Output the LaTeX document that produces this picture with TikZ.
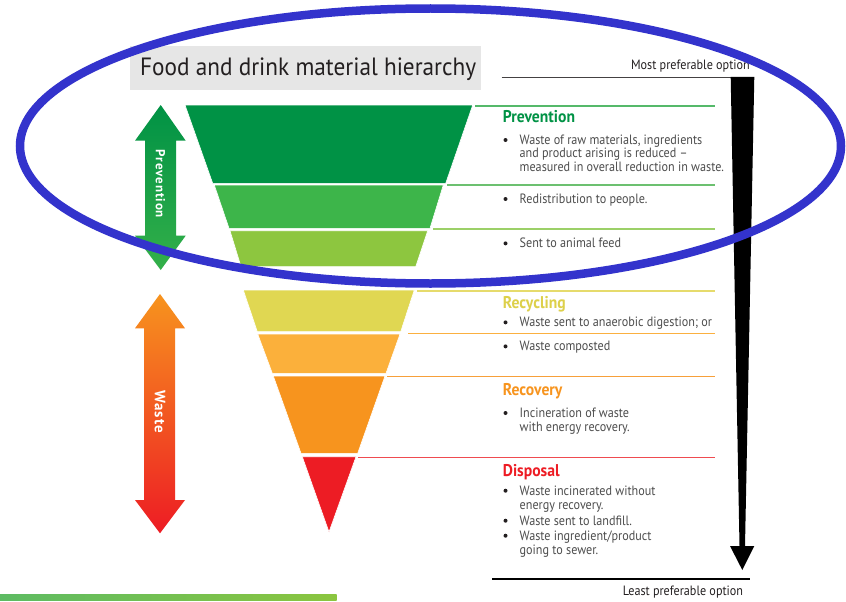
\documentclass[tikz,border=0pt]{standalone}
\usepackage{fontspec}
\newfontfamily\din[FakeStretch=0.9]{PT Sans}
\newfontfamily\dinhead[FakeStretch=0.92]{PT Sans}
\newfontfamily\dintitle[FakeStretch=0.93]{PT Sans}
\newfontfamily\dinwide[LetterSpace=7]{PT Sans}
\definecolor{g1}{HTML}{009245}
\definecolor{g2}{HTML}{3DB54A}
\definecolor{g3}{HTML}{8DC63F}
\definecolor{y1}{HTML}{E0D752}
\definecolor{o1}{HTML}{FBB03B}
\definecolor{o2}{HTML}{F7941E}
\definecolor{r1}{HTML}{ED1C24}
\definecolor{txt}{HTML}{4D4D4D}
\definecolor{ttl}{HTML}{231F20}
\definecolor{boxgray}{HTML}{E6E6E6}
\definecolor{ring}{HTML}{3333CC}
\definecolor{gl1}{HTML}{5DBB63}
\definecolor{gl2}{HTML}{8BC53F}
\definecolor{hy}{HTML}{DDD04A}
\definecolor{s1}{HTML}{55B96A}
\definecolor{s2}{HTML}{6CC070}
\definecolor{s3}{HTML}{9CD068}
\definecolor{s4}{HTML}{E6DB6C}
\definecolor{s5}{HTML}{FBB040}
\definecolor{s6}{HTML}{F7A03A}
\definecolor{s7}{HTML}{EF4B50}
\begin{document}
\begin{tikzpicture}[x=1pt,y=-1pt,
  body/.style={anchor=base west, inner sep=0pt, font=\din\fontsize{13.5}{15}\selectfont, text=txt},
  head/.style={anchor=base west, inner sep=0pt, font=\dinhead\bfseries\fontsize{17}{18}\selectfont},
  bul/.style={circle, fill=ttl, inner sep=0pt, minimum size=4pt},
  sepline/.style={line width=1.3pt},
  layer/.style={draw=white, line width=0.6pt},
  sidelabel/.style={rotate=-90, text=white, inner sep=0pt, font=\dinwide\bfseries\fontsize{13}{14}\selectfont},
  ]
\useasboundingbox (0,0) rectangle (846,602);
\fill[white] (0,0) rectangle (846,602);

% title
\node (titlebox) [fill=boxgray, minimum width=351pt, minimum height=43.3pt, anchor=north west, inner sep=0pt] at (130,46) {};
\node (title) [anchor=base west, inner sep=0pt, text=ttl, font=\dintitle\fontsize{25}{27}\selectfont] at (140,75.7) {Food and drink material hierarchy};

% funnel
\fill[g1, layer] (185,105) -- (472.7,105) -- (445.7,183.3) -- (212.7,183.3) -- cycle;
\fill[g2, layer] (214.3,185) -- (443.3,185) -- (430,228.3) -- (229,228.3) -- cycle;
\fill[g3, layer] (230,230.7) -- (427.7,230.7) -- (415.7,266.7) -- (241,266.7) -- cycle;
\fill[y1, layer] (243.3,290) -- (414.3,290) -- (400.7,331.7) -- (257.3,331.7) -- cycle;
\fill[o1, layer] (257.7,334) -- (400,334) -- (386,373.3) -- (272.3,373.3) -- cycle;
\fill[o2, layer] (273.3,376) -- (385,376) -- (357.7,453.3) -- (301,453.3) -- cycle;
\fill[r1, layer] (302.3,456.7) -- (356,456.7) -- (329,532) -- cycle;

% separator lines
\draw[sepline, s1] (475,106) -- (715,106);
\draw[sepline, s2] (447,185) -- (715,185);
\draw[sepline, s3] (433,229) -- (715,229);
\draw[sepline, s4] (417,291) -- (715,291);
\draw[sepline, s5] (408,333.3) -- (715,333.3);
\draw[sepline, s6] (387,376.7) -- (715,376.7);
\draw[sepline, s7] (358,457.7) -- (715,457.7);

% left arrows
\shade[top color=g1, bottom color=g2!85!g1] (160.7,105) -- (185.7,140.7) -- (176,140.7) -- (176,235.7) -- (185.7,235.7) -- (160.7,270) -- (135,235.7) -- (145,235.7) -- (145,140.7) -- (135,140.7) -- cycle;
\node (prevlabel) [sidelabel] at (160.5,184) {Prevention};
\shade[top color=o2, middle color=o1, bottom color=r1] (160,294) -- (185,328.3) -- (175,328.3) -- (175,500) -- (185,500) -- (160,533.3) -- (135,500) -- (144,500) -- (144,328.3) -- (135,328.3) -- cycle;
\node (wastelabel) [sidelabel, font=\dinwide\bfseries\fontsize{15}{16}\selectfont] at (160,411.7) {Waste};

% right scale
\draw[line width=1.3pt, ttl!85] (501.7,77.7) -- (731,77.7);
\draw[line width=1.3pt, black] (492.3,579) -- (750,579);
\fill[black] (730.7,77) -- (754.3,77) -- (745,546) -- (754.3,546) -- (742.3,570) -- (730,546) -- (739.5,546) -- cycle;
\node (most) [body, anchor=base east, text=ttl] at (750,70) {Most preferable option};
\node (least) [body, anchor=base east, text=ttl] at (743.3,595) {Least preferable option};

% texts
\node (hprev) [head, text=g1] at (502.7,122.7) {Prevention};
\node (b1) [bul] at (505.5,140) {};
\node (t1a) [body] at (519.5,144.3) {Waste of raw materials, ingredients};
\node (t1b) [body] at (519.5,157.7) {and product arising is reduced –};
\node (t1c) [body] at (519.5,171.5) {measured in overall reduction in waste.};
\node (b2) [bul] at (505.5,199) {};
\node (t2) [body] at (519.5,203.3) {Redistribution to people.};
\node (b3) [bul] at (505.5,243.4) {};
\node (t3) [body] at (519.5,247.7) {Sent to animal feed};

\node (hrec) [head, text=hy] at (502.7,308.3) {Recycling};
\node (b4) [bul] at (505.5,322.4) {};
\node (t4) [body] at (519.5,326.7) {Waste sent to anaerobic digestion; or};
\node (b5) [bul] at (505.5,346.4) {};
\node (t5) [body] at (519.5,350.7) {Waste composted};

\node (hrcv) [head, text=o2] at (502.7,395.7) {Recovery};
\node (b6) [bul] at (505.5,413) {};
\node (t6a) [body] at (519.5,417.3) {Incineration of waste};
\node (t6b) [body] at (519.5,431) {with energy recovery.};

\node (hdis) [head, text=r1] at (502.7,476.7) {Disposal};
\node (b7) [bul] at (505.5,490.7) {};
\node (t7a) [body] at (519.5,495) {Waste incinerated without};
\node (t7b) [body] at (519.5,509.3) {energy recovery.};
\node (b8) [bul] at (505.5,520.7) {};
\node (t8) [body] at (519.5,525) {Waste sent to landfill.};
\node (b9) [bul] at (505.5,535.7) {};
\node (t9a) [body] at (519.5,540) {Waste ingredient/product};
\node (t9b) [body] at (519.5,554.3) {going to sewer.};

% bottom green bar
\shade[left color=gl1, right color=gl2] (0,594.5) rectangle (336.7,600.5);

% highlight ring
\draw[ring, line width=8.5pt] (430.5,146) ellipse [x radius=410.5, y radius=137.5];
\end{tikzpicture}
\end{document}
